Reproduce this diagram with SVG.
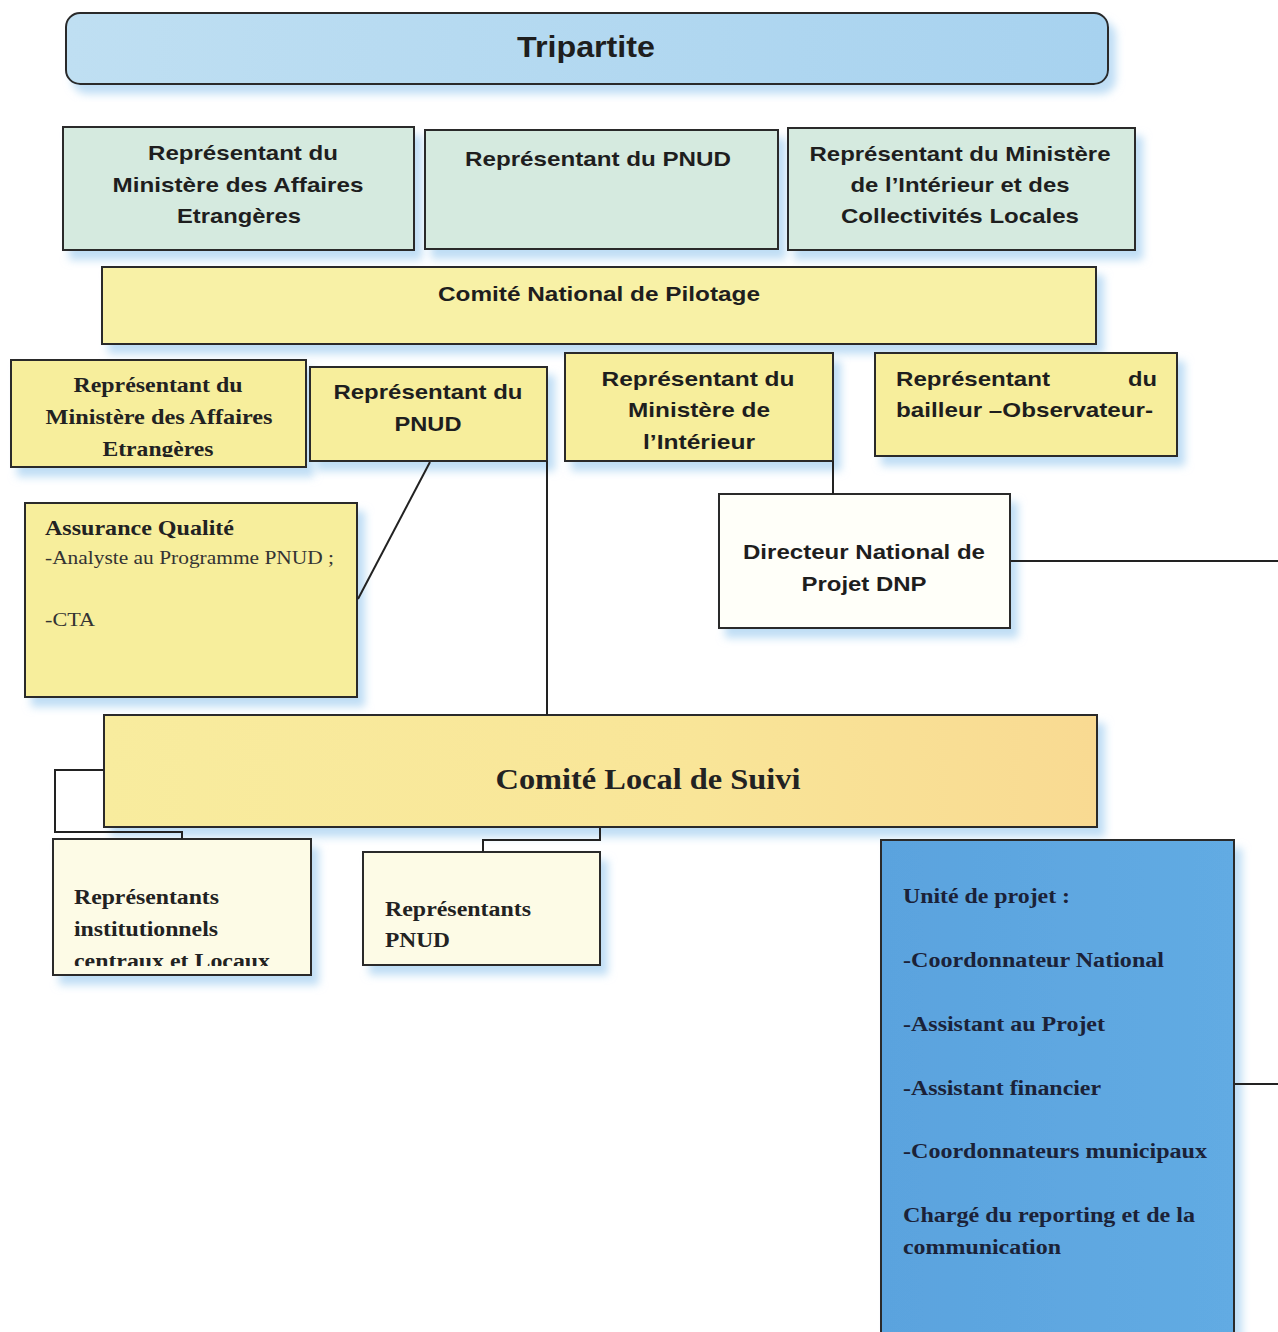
<svg xmlns="http://www.w3.org/2000/svg" width="1278" height="1332" viewBox="0 0 1278 1332">
<style>
.box{stroke:#2a2a2a;stroke-width:2}
.sans{font-family:"Liberation Sans",Arial,sans-serif;font-weight:bold;font-size:21px;fill:#1e1e1e}
.serif{font-family:"Liberation Serif","Times New Roman",serif;font-weight:bold;font-size:21px;fill:#222}
.unit{font-family:"Liberation Serif","Times New Roman",serif;font-weight:bold;font-size:20px;fill:#1b2238}
.reg{font-family:"Liberation Serif","Times New Roman",serif;font-size:18px;fill:#333}
.c{text-anchor:middle}
.conn{fill:none;stroke:#222;stroke-width:2}
</style>
<defs>
<filter id="sh" x="-10%" y="-10%" width="125%" height="135%">
<feDropShadow dx="7" dy="9" stdDeviation="4" flood-color="#a9d2f2" flood-opacity="0.75"/>
</filter>
<linearGradient id="gBlue" x1="0" y1="0" x2="1" y2="0">
<stop offset="0" stop-color="#bfdff2"/><stop offset="1" stop-color="#a7d2ef"/>
</linearGradient>
<linearGradient id="gCls" x1="0" y1="0" x2="1" y2="0">
<stop offset="0" stop-color="#f8ec9e"/><stop offset="0.6" stop-color="#f9e598"/><stop offset="1" stop-color="#f9da92"/>
</linearGradient>
<linearGradient id="gUnit" x1="0" y1="0" x2="1" y2="0">
<stop offset="0" stop-color="#5aa3de"/><stop offset="1" stop-color="#62abe3"/>
</linearGradient>
<clipPath id="clipA"><rect x="11" y="360" width="295" height="97"/></clipPath>
<clipPath id="clipI"><rect x="53" y="839" width="258" height="127"/></clipPath>
</defs>

<g id="tripartite">
<rect class="box" x="66" y="13" width="1042" height="71" rx="14" fill="url(#gBlue)" filter="url(#sh)"/>
<text class="sans c" x="586" y="57" style="font-size:30px" textLength="138" lengthAdjust="spacingAndGlyphs">Tripartite</text>
</g>

<g id="t-mae">
<rect class="box" x="63" y="127" width="351" height="123" fill="#d5eadf" filter="url(#sh)"/>
<text class="sans c" x="243" y="160" textLength="190" lengthAdjust="spacingAndGlyphs">Représentant du</text>
<text class="sans c" x="238" y="192" textLength="251" lengthAdjust="spacingAndGlyphs">Ministère des Affaires</text>
<text class="sans c" x="239" y="223" textLength="124" lengthAdjust="spacingAndGlyphs">Etrangères</text>
</g>

<g id="t-pnud">
<rect class="box" x="425" y="130" width="353" height="119" fill="#d5eadf" filter="url(#sh)"/>
<text class="sans c" x="598" y="166" textLength="266" lengthAdjust="spacingAndGlyphs">Représentant du PNUD</text>
</g>

<g id="t-mi">
<rect class="box" x="788" y="128" width="347" height="122" fill="#d5eadf" filter="url(#sh)"/>
<text class="sans c" x="960" y="161" textLength="301" lengthAdjust="spacingAndGlyphs">Représentant du Ministère</text>
<text class="sans c" x="960" y="192" textLength="219" lengthAdjust="spacingAndGlyphs">de l’Intérieur et des</text>
<text class="sans c" x="960" y="223" textLength="238" lengthAdjust="spacingAndGlyphs">Collectivités Locales</text>
</g>

<g id="cnp">
<rect class="box" x="102" y="267" width="994" height="77" fill="#f8f1a6" filter="url(#sh)"/>
<text class="sans c" x="599" y="301" textLength="322" lengthAdjust="spacingAndGlyphs">Comité National de Pilotage</text>
</g>

<g id="r-mae">
<rect class="box" x="11" y="360" width="295" height="107" fill="#f7ee9c" filter="url(#sh)"/>
<g clip-path="url(#clipA)">
<text class="serif c" x="158" y="392" textLength="169" lengthAdjust="spacingAndGlyphs">Représentant du</text>
<text class="serif c" x="159" y="424" textLength="227" lengthAdjust="spacingAndGlyphs">Ministère des Affaires</text>
<text class="serif c" x="158" y="456" textLength="111" lengthAdjust="spacingAndGlyphs">Etrangères</text>
</g>
</g>

<g id="r-pnud">
<rect class="box" x="310" y="367" width="237" height="94" fill="#f7ee9c" filter="url(#sh)"/>
<text class="sans c" x="428" y="399" textLength="189" lengthAdjust="spacingAndGlyphs">Représentant du</text>
<text class="sans c" x="428" y="431" textLength="67" lengthAdjust="spacingAndGlyphs">PNUD</text>
</g>

<g id="r-mi">
<rect class="box" x="565" y="353" width="268" height="108" fill="#f7ee9c" filter="url(#sh)"/>
<text class="sans c" x="698" y="386" textLength="193" lengthAdjust="spacingAndGlyphs">Représentant du</text>
<text class="sans c" x="699" y="417" textLength="142" lengthAdjust="spacingAndGlyphs">Ministère de</text>
<text class="sans c" x="699" y="449" textLength="112" lengthAdjust="spacingAndGlyphs">l’Intérieur</text>
</g>

<g id="r-bailleur">
<rect class="box" x="875" y="353" width="302" height="103" fill="#f7ee9c" filter="url(#sh)"/>
<text class="sans" x="896" y="386" textLength="154" lengthAdjust="spacingAndGlyphs">Représentant</text>
<text class="sans" x="1157" y="386" text-anchor="end" textLength="29" lengthAdjust="spacingAndGlyphs">du</text>
<text class="sans" x="896" y="417" textLength="257" lengthAdjust="spacingAndGlyphs">bailleur –Observateur-</text>
</g>

<g id="assurance">
<rect class="box" x="25" y="503" width="332" height="194" fill="#f7ee9c" filter="url(#sh)"/>
<text class="serif" x="45" y="535" textLength="189" lengthAdjust="spacingAndGlyphs">Assurance Qualité</text>
<text class="reg" x="45" y="564" textLength="289" lengthAdjust="spacingAndGlyphs">-Analyste au Programme PNUD ;</text>
<text class="reg" x="45" y="626" textLength="50" lengthAdjust="spacingAndGlyphs">-CTA</text>
</g>

<g id="dnp">
<rect class="box" x="719" y="494" width="291" height="134" fill="#fffff9" filter="url(#sh)"/>
<text class="sans c" x="864" y="559" textLength="242" lengthAdjust="spacingAndGlyphs">Directeur National de</text>
<text class="sans c" x="864" y="591" textLength="125" lengthAdjust="spacingAndGlyphs">Projet DNP</text>
</g>

<g id="cls">
<rect class="box" x="104" y="715" width="993" height="112" fill="url(#gCls)" filter="url(#sh)"/>
<text class="serif c" x="648" y="789" style="font-size:30px" textLength="305" lengthAdjust="spacingAndGlyphs">Comité Local de Suivi</text>
</g>

<g id="institutionnels">
<rect class="box" x="53" y="839" width="258" height="136" fill="#fdfbe6" filter="url(#sh)"/>
<g clip-path="url(#clipI)">
<text class="serif" x="74" y="904" style="font-size:20px" textLength="145" lengthAdjust="spacingAndGlyphs">Représentants</text>
<text class="serif" x="74" y="936" style="font-size:20px" textLength="144" lengthAdjust="spacingAndGlyphs">institutionnels</text>
<text class="serif" x="74" y="968" style="font-size:20px" textLength="196" lengthAdjust="spacingAndGlyphs">centraux et Locaux</text>
</g>
</g>

<g id="rep-pnud">
<rect class="box" x="363" y="852" width="237" height="113" fill="#fdfbe6" filter="url(#sh)"/>
<text class="serif" x="385" y="916" style="font-size:20px" textLength="146" lengthAdjust="spacingAndGlyphs">Représentants</text>
<text class="serif" x="385" y="947" style="font-size:20px" textLength="65" lengthAdjust="spacingAndGlyphs">PNUD</text>
</g>

<g id="unite">
<rect class="box" x="881" y="840" width="353" height="500" fill="url(#gUnit)" filter="url(#sh)"/>
<text class="unit" x="903" y="903" textLength="167" lengthAdjust="spacingAndGlyphs">Unité de projet :</text>
<text class="unit" x="903" y="967" textLength="261" lengthAdjust="spacingAndGlyphs">-Coordonnateur National</text>
<text class="unit" x="903" y="1031" textLength="202" lengthAdjust="spacingAndGlyphs">-Assistant au Projet</text>
<text class="unit" x="903" y="1095" textLength="198" lengthAdjust="spacingAndGlyphs">-Assistant financier</text>
<text class="unit" x="903" y="1158" textLength="304" lengthAdjust="spacingAndGlyphs">-Coordonnateurs municipaux</text>
<text class="unit" x="903" y="1222" textLength="292" lengthAdjust="spacingAndGlyphs">Chargé du reporting et de la</text>
<text class="unit" x="903" y="1254" textLength="158" lengthAdjust="spacingAndGlyphs">communication</text>
</g>

<g id="connectors">
<line class="conn" x1="430" y1="462" x2="358" y2="599"/>
<line class="conn" x1="547" y1="461" x2="547" y2="715"/>
<line class="conn" x1="833" y1="461" x2="833" y2="494"/>
<line class="conn" x1="1011" y1="561" x2="1278" y2="561"/>
<polyline class="conn" points="104,770 55,770 55,832 182,832 182,839"/>
<polyline class="conn" points="600,828 600,840 483,840 483,852"/>
<line class="conn" x1="1235" y1="1084" x2="1278" y2="1084"/>
</g>
</svg>
